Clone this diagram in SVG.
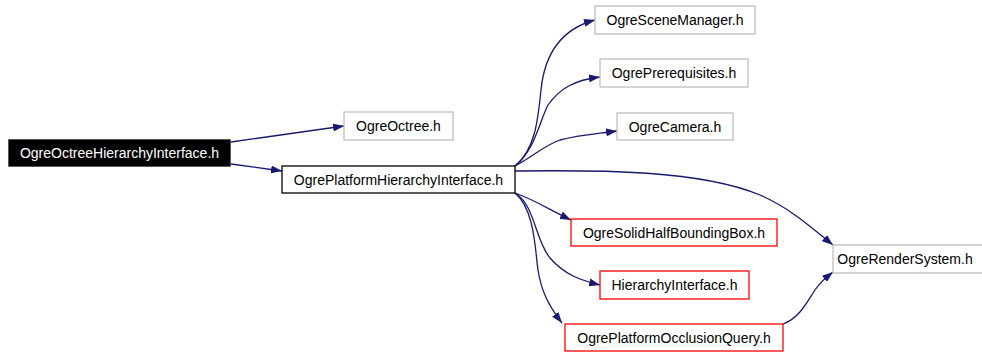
<svg xmlns="http://www.w3.org/2000/svg" width="982" height="352" viewBox="0 0 982 352">
<defs>
<marker id="ah" markerUnits="userSpaceOnUse" markerWidth="11" markerHeight="8" refX="11" refY="4" orient="auto">
<path d="M0,0 L11,4 L0,8 z" fill="#191970"/>
</marker>
<style>
text{font-family:"Liberation Sans",Arial,sans-serif;font-size:14px;text-anchor:middle;fill:#000}
.g rect{fill:#fff;stroke:#bfbfbf;stroke-width:1.3}
.r rect{fill:#fff;stroke:#ff0000;stroke-width:1.3}
.k rect{fill:#fff;stroke:#000;stroke-width:1.3}
#edges path{fill:none;stroke:#191970;stroke-width:1.3;marker-end:url(#ah)}
</style>
</defs>
<rect width="982" height="352" fill="#fff"/>
<g id="edges">
<path d="M231,142 L344,126"/>
<path d="M231,164 L282,171"/>
<path d="M515,166 C535,150 538,120 541,90 C545,50 565,28 595,20"/>
<path d="M515,166 C535,150 540,120 548,105 C560,88 575,80 600,77"/>
<path d="M515,166 C535,155 545,145 560,140 C578,135 595,134 617,131"/>
<path d="M515,171 C600,170 700,170 760,195 C790,208 812,228 833,245"/>
<path d="M515,193 C535,200 550,210 571,220"/>
<path d="M515,193 C535,205 535,240 550,258 C565,275 580,280 600,285"/>
<path d="M515,193 C535,210 535,250 538,270 C541,290 548,305 562,323"/>
<path d="M783,324 C800,318 808,300 815,290 C822,280 828,276 833,272"/>
</g>
<g id="n_octreehi" class="k"><rect x="9" y="140" width="221" height="26" fill="#000" style="fill:#000;stroke:#000"/><text x="119.5" y="158" style="fill:#fff">OgreOctreeHierarchyInterface.h</text></g>
<g id="n_octree" class="g"><rect x="344" y="112" width="109" height="28"/><text x="398.5" y="131">OgreOctree.h</text></g>
<g id="n_platformhi" class="k"><rect x="282" y="166" width="233" height="27"/><text x="398.5" y="184.5">OgrePlatformHierarchyInterface.h</text></g>
<g id="n_scenemgr" class="g"><rect x="595" y="6" width="160" height="28"/><text x="675" y="25">OgreSceneManager.h</text></g>
<g id="n_prereq" class="g"><rect x="600" y="59" width="148" height="28"/><text x="674" y="78">OgrePrerequisites.h</text></g>
<g id="n_camera" class="g"><rect x="617" y="113" width="116" height="27"/><text x="675" y="131.5">OgreCamera.h</text></g>
<g id="n_solid" class="r"><rect x="571" y="219" width="206" height="27"/><text x="674" y="237.5">OgreSolidHalfBoundingBox.h</text></g>
<g id="n_hier" class="r"><rect x="600" y="271" width="149" height="28"/><text x="674.5" y="290">HierarchyInterface.h</text></g>
<g id="n_occl" class="r"><rect x="565" y="324" width="218" height="27"/><text x="674" y="342.5">OgrePlatformOcclusionQuery.h</text></g>
<g id="n_render" class="g"><rect x="833" y="245" width="152" height="28"/><text x="905" y="264">OgreRenderSystem.h</text></g>
</svg>
